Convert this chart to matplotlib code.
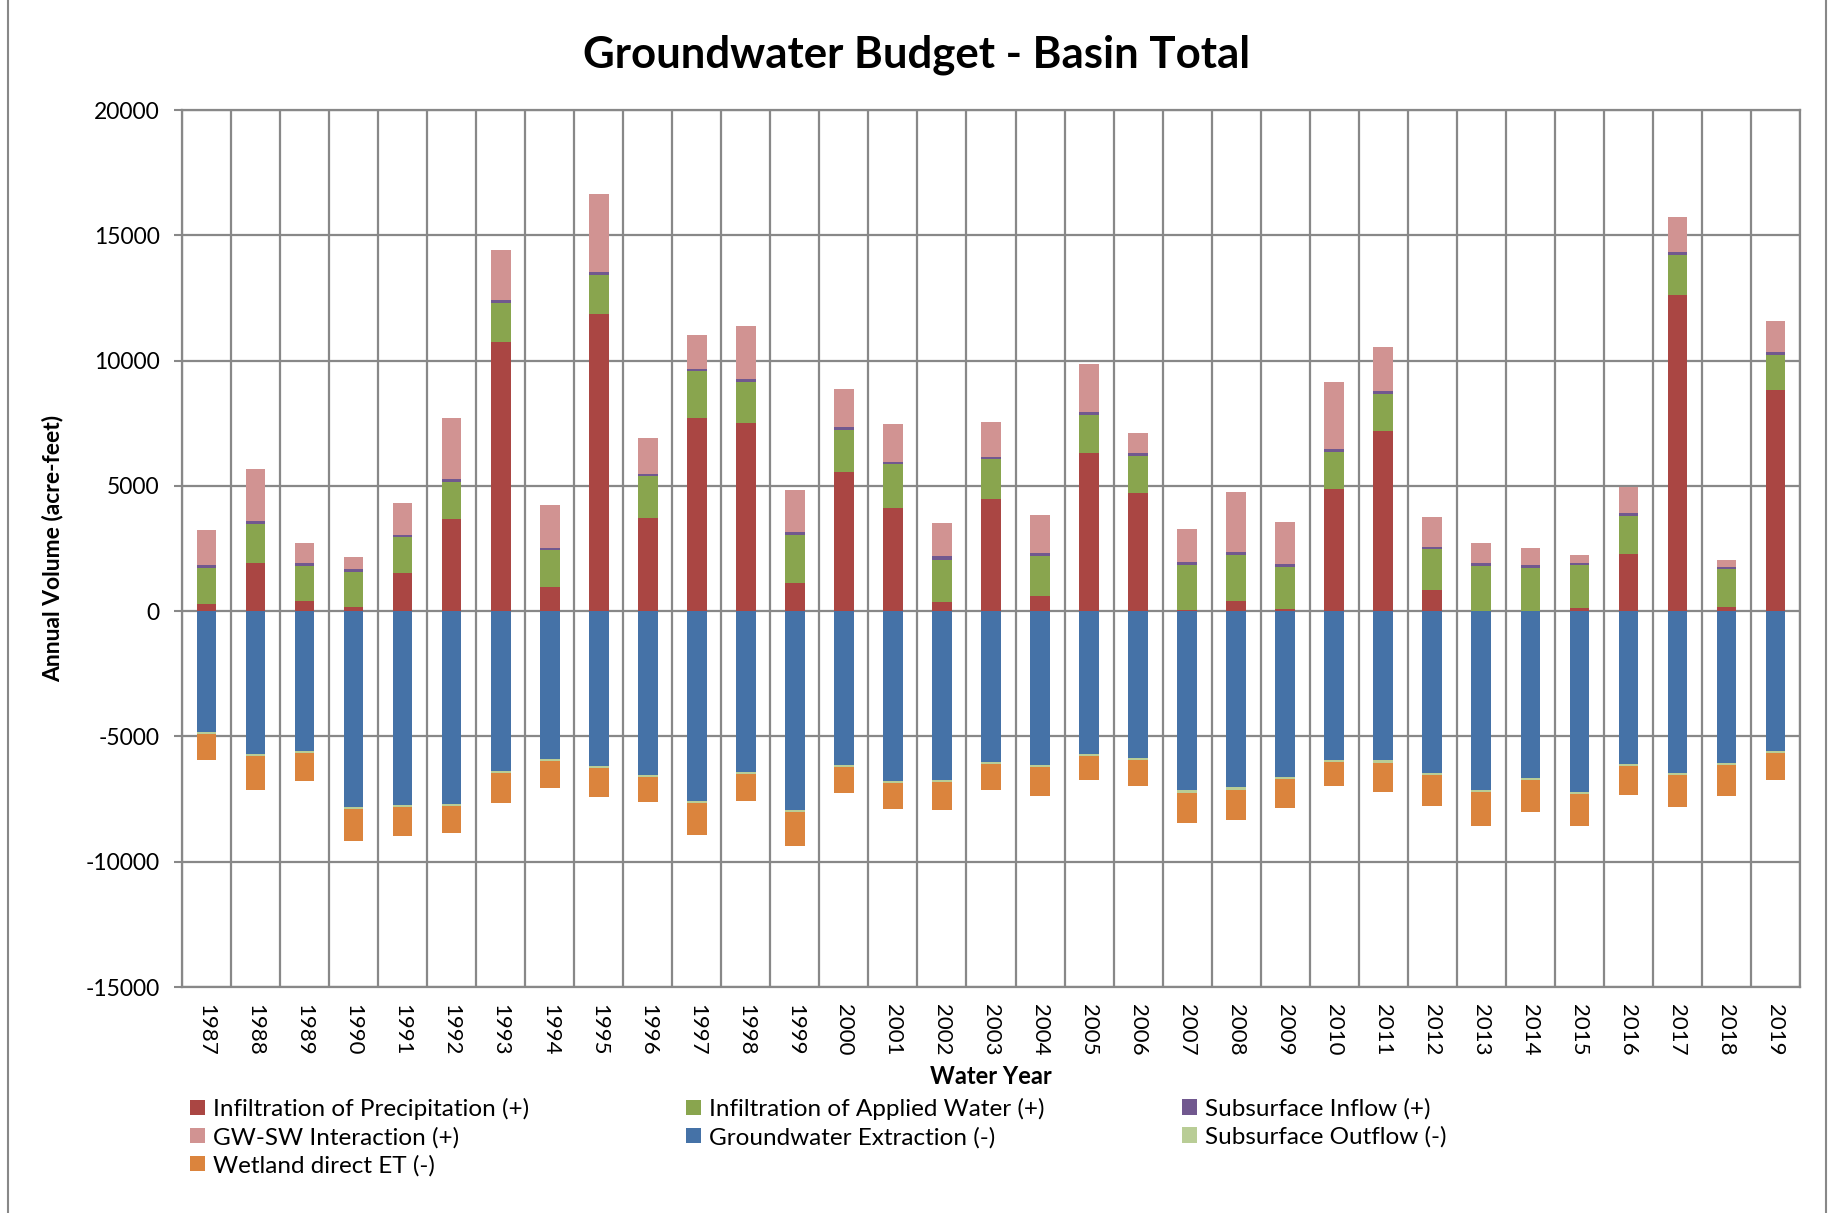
import numpy as np
import matplotlib
matplotlib.use("Agg")
import matplotlib.pyplot as plt
from matplotlib.patches import Patch
from matplotlib.lines import Line2D

plt.rcParams['font.family'] = ['Lato', 'DejaVu Sans']
plt.rcParams['axes.unicode_minus'] = False

# Water years and budget components (acre-feet)
years = [str(y) for y in range(1987, 2020)]

precip = [300, 1930, 410, 170, 1530, 3660, 10740, 970, 11870, 3710, 7700, 7510, 1110,
          5570, 4130, 360, 4460, 600, 6330, 4700, 30, 410, 100, 4870, 7170, 840, 20, 0,
          110, 2300, 12630, 170, 8830]
applied = [1410, 1530, 1400, 1400, 1410, 1490, 1560, 1460, 1560, 1670, 1870, 1630, 1940,
           1660, 1730, 1700, 1600, 1590, 1500, 1490, 1800, 1830, 1670, 1490, 1510, 1640,
           1800, 1730, 1720, 1490, 1600, 1500, 1400]
inflow = [140, 140, 100, 130, 110, 110, 100, 100, 100, 110, 110, 110, 90, 100, 100, 150,
          100, 140, 100, 140, 130, 130, 100, 110, 90, 90, 90, 100, 90, 140, 90, 100, 100]
gwsw = [1370, 2090, 800, 460, 1260, 2440, 2000, 1690, 3130, 1400, 1340, 2140, 1690, 1540,
        1500, 1300, 1400, 1510, 1930, 760, 1330, 2400, 1690, 2670, 1760, 1190, 800, 700,
        330, 1040, 1410, 290, 1260]

extraction = [-4830, -5720, -5570, -7830, -7740, -7690, -6370, -5910, -6190, -6520, -7590,
              -6420, -7930, -6150, -6770, -6720, -6010, -6150, -5710, -5850, -7130, -7020,
              -6600, -5950, -5960, -6460, -7130, -6650, -7220, -6110, -6460, -6050, -5590]
outflow = [-80, -80, -90, -80, -80, -80, -80, -80, -80, -80, -80, -80, -80, -80, -90, -80,
           -80, -80, -80, -80, -110, -110, -90, -90, -120, -80, -90, -80, -80, -80, -80,
           -80, -80]
wetland = [-1040, -1320, -1120, -1250, -1170, -1080, -1220, -1080, -1130, -1020, -1260,
           -1080, -1360, -1030, -1050, -1120, -1030, -1130, -950, -1040, -1220, -1220,
           -1160, -920, -1130, -1220, -1340, -1300, -1260, -1160, -1280, -1260, -1060]

pos_series = [
    ("Infiltration of Precipitation (+)", precip, "#AA4643"),
    ("Infiltration of Applied Water (+)", applied, "#89A54E"),
    ("Subsurface Inflow (+)", inflow, "#71588F"),
    ("GW-SW Interaction (+)", gwsw, "#D19392"),
]
neg_series = [
    ("Groundwater Extraction (-)", extraction, "#4572A7"),
    ("Subsurface Outflow (-)", outflow, "#B9CD96"),
    ("Wetland direct ET (-)", wetland, "#DB843D"),
]

GRID = "#888888"

fig = plt.figure(figsize=(18.33, 12.13), dpi=100)
ax = fig.add_axes([182 / 1833, 1 - 987 / 1213, (1800 - 182) / 1833, (987 - 110) / 1213])

x = np.arange(len(years))
width = 0.4
colors = {}

bottom = np.zeros(len(years))
for name, vals, col in pos_series:
    ax.bar(x, vals, width, bottom=bottom, color=col, linewidth=0)
    bottom += np.array(vals)
    colors[name] = col

bottom = np.zeros(len(years))
for name, vals, col in neg_series:
    ax.bar(x, vals, width, bottom=bottom, color=col, linewidth=0)
    bottom += np.array(vals)
    colors[name] = col

ax.set_xlim(-0.5, len(years) - 0.5)
ax.set_ylim(-15000, 20000)
ax.set_yticks(np.arange(-15000, 20001, 5000))
ax.set_xticks(x)
ax.set_xticklabels(years, rotation=-90, fontsize=16)
ax.set_xticks(np.arange(-0.5, len(years), 1), minor=True)
ax.tick_params(axis='x', which='both', length=0, pad=12)
ax.tick_params(axis='y', length=6, width=1.5, color=GRID, pad=10, labelsize=16.5)

ax.set_axisbelow(True)
ax.grid(axis='y', which='major', color=GRID, linewidth=1.6)
ax.grid(axis='x', which='minor', color=GRID, linewidth=1.6)
for sp in ax.spines.values():
    sp.set_color(GRID)
    sp.set_linewidth(1.6)

ax.set_ylabel("Annual Volume (acre-feet)", fontsize=16.5, fontweight='bold', labelpad=16)
ax.set_xlabel("Water Year", fontsize=17, fontweight='bold', labelpad=7)
fig.text(0.5, 1 - 55 / 1213, "Groundwater Budget - Basin Total", ha='center', va='center',
         fontsize=31.5, fontweight='bold')

# legend laid out in three columns like the original
cols = [
    ["Infiltration of Precipitation (+)", "GW-SW Interaction (+)", "Wetland direct ET (-)"],
    ["Infiltration of Applied Water (+)", "Groundwater Extraction (-)"],
    ["Subsurface Inflow (+)", "Subsurface Outflow (-)"],
]
col_x = [190, 686, 1182]
for names, cx in zip(cols, col_x):
    handles = [Patch(facecolor=colors[n], edgecolor='none') for n in names]
    fig.legend(handles, names, loc='upper left', bbox_to_anchor=(cx / 1833, 1 - 1098 / 1213),
               frameon=False, fontsize=17.5, borderpad=0, borderaxespad=0,
               handlelength=0.6, handleheight=0.6, handletextpad=0.35, labelspacing=0.27)

# outer chart-area border
for fx in (8 / 1833, 1826 / 1833):
    fig.add_artist(Line2D([fx, fx], [0, 1], color=GRID, linewidth=1.5, transform=fig.transFigure))

fig.savefig("out.png", dpi=100, facecolor='white')
